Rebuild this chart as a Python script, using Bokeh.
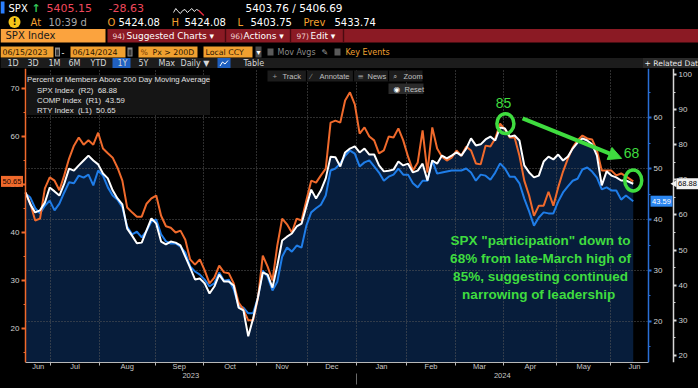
import math
import pandas as pd
from bokeh.plotting import figure
from bokeh.layouts import column
from bokeh.models import (Range1d, LinearAxis, FixedTicker, SingleIntervalTicker, Grid,
                          Legend, LegendItem, Arrow, NormalHead, CustomJSTickFormatter)
from bokeh.core.properties import value
from bokeh.embed import file_html
from bokeh.resources import INLINE

# ---------------- data ----------------
START, END = "2023-06-15", "2024-06-14"
HOLIDAYS = ["2023-06-19", "2023-07-04", "2023-09-04", "2023-11-23", "2023-12-25",
            "2024-01-01", "2024-01-15", "2024-02-19", "2024-03-29", "2024-05-27"]

# % of members above 200D moving average, sampled every 2nd trading day (last = 06/14/2024)
spx = [66.4, 63.0, 60.7, 61.3, 63.5, 67.8, 66.7, 65.5, 68.9, 73.2,
       72.6, 74.1, 75.5, 76.9, 75.5, 74.4, 71.8, 70.4, 67.0, 64.7,
       63.0, 56.1, 54.1, 51.9, 52.1, 55.6, 59.0, 57.5, 52.4, 51.6,
       52.4, 52.1, 51.3, 48.1, 45.0, 41.6, 41.9, 40.5, 37.6, 39.6,
       43.0, 41.0, 41.0, 39.9, 33.6, 32.8, 25.4, 30.5, 36.5, 43.6,
       43.0, 39.3, 45.6, 52.7, 53.8, 54.7, 56.7, 57.5, 62.4, 67.2,
       64.7, 67.0, 70.4, 76.6, 76.4, 73.8, 77.8, 78.9, 79.5, 77.8,
       78.9, 77.2, 77.2, 74.1, 72.4, 72.6, 72.9, 75.2, 74.1, 74.6,
       72.1, 72.6, 74.6, 69.8, 75.5, 74.6, 76.9, 76.1, 76.9, 77.8,
       76.9, 78.9, 81.8, 79.8, 80.1, 81.5, 82.3, 81.2, 84.9, 84.6,
       82.3, 82.6, 81.2, 74.1, 72.1, 70.7, 71.2, 75.2, 76.6, 75.8,
       77.2, 75.5, 76.6, 78.9, 80.6, 81.8, 81.2, 80.1, 76.9, 68.4,
       72.4, 71.2, 70.7, 69.8, 69.8, 68.88]
comp = [45.1, 44.3, 42.2, 41.2, 42.7, 43.7, 41.8, 43.1, 45.3, 47.3,
        47.1, 48.6, 48.2, 48.8, 46.7, 49.6, 48.6, 46.3, 44.7, 43.9,
        42.4, 38.6, 37.1, 37.6, 36.5, 37.8, 39.6, 40.0, 37.1, 35.7,
        35.3, 35.3, 34.7, 33.5, 30.8, 29.8, 29.2, 28.2, 26.9, 27.5,
        29.6, 28.0, 28.2, 26.3, 23.1, 22.7, 21.6, 21.6, 24.7, 30.0,
        28.8, 26.1, 27.8, 32.7, 34.5, 33.7, 34.9, 34.5, 38.8, 41.4,
        42.2, 42.9, 44.7, 49.6, 50.0, 51.0, 52.5, 53.5, 52.9, 50.4,
        51.2, 51.6, 50.4, 49.2, 47.6, 48.4, 48.8, 50.0, 48.8, 48.8,
        47.1, 46.3, 47.6, 47.6, 51.6, 49.0, 49.2, 49.4, 49.6, 49.6,
        49.6, 50.0, 49.2, 47.6, 48.8, 48.6, 47.8, 49.2, 51.0, 50.0,
        48.4, 48.4, 47.1, 44.1, 41.6, 38.8, 40.4, 41.4, 41.2, 41.2,
        43.5, 45.3, 46.5, 47.6, 48.0, 49.8, 50.2, 49.4, 48.2, 45.9,
        46.3, 45.7, 45.7, 43.9, 44.7, 43.59]
rty = [48.3, 46.0, 42.5, 42.9, 49.2, 51.5, 50.8, 48.8, 51.9, 55.4,
       58.1, 59.8, 58.3, 59.2, 58.3, 60.8, 57.5, 56.5, 55.6, 53.5,
       50.8, 45.2, 44.2, 43.3, 43.3, 46.0, 47.1, 47.7, 43.5, 41.3,
       41.0, 40.0, 40.4, 38.5, 34.4, 33.3, 34.4, 32.1, 29.4, 30.6,
       33.1, 31.7, 31.5, 29.4, 25.4, 24.0, 21.7, 21.7, 26.3, 35.2,
       32.9, 30.0, 37.3, 42.9, 41.7, 40.0, 42.9, 42.5, 46.7, 50.8,
       50.4, 51.9, 53.3, 62.9, 63.3, 62.9, 67.5, 69.2, 66.7, 60.6,
       61.9, 60.0, 59.2, 56.5, 57.1, 60.0, 59.8, 61.7, 59.2, 55.8,
       52.9, 54.6, 61.3, 52.5, 61.9, 57.5, 55.8, 55.0, 55.6, 57.1,
       56.0, 57.9, 57.1, 54.4, 54.2, 58.1, 57.9, 59.6, 62.7, 61.5,
       59.8, 59.8, 56.0, 50.8, 47.7, 43.5, 45.6, 45.6, 48.5, 45.6,
       49.4, 52.7, 55.4, 57.7, 59.2, 60.2, 59.6, 59.4, 57.1, 52.9,
       52.9, 52.9, 51.9, 52.3, 51.7, 50.65]

month_labels = ["Jun", "Jul", "Aug", "Sep", "Oct", "Nov", "Dec",
                "Jan", "Feb", "Mar", "Apr", "May", "Jun"]
year_labels = ["2023", "2024"]
legend_labels = ["SPX Index\u00a0\u00a0(R2)\u00a0\u00a068.88",
                 "COMP Index\u00a0\u00a0(R1)\u00a0\u00a043.59",
                 "RTY Index\u00a0\u00a0(L1)\u00a0\u00a050.65"]

# ---------------- derived x positions (trading-day index) ----------------
days = [d for d in pd.bdate_range(START, END) if d.strftime("%Y-%m-%d") not in HOLIDAYS]
n = len(days)
xs = list(range(0, n - 2, 2)) + [n - 1]
assert len(xs) == len(spx) == len(comp) == len(rty), (len(xs), len(spx), len(comp), len(rty))

bounds = [i - 0.5 for i in range(1, n) if days[i].month != days[i - 1].month]
year_b = [i - 0.5 for i in range(1, n) if days[i].year != days[i - 1].year][0]
x_end = n - 1 + 6.3
edges = [0] + bounds
month_centers = [(a + b) / 2 for a, b in zip(edges[:-1], edges[1:])] + [bounds[-1] + 10]
year_centers = [year_b / 2, (year_b + x_end) / 2]

R1 = (11.96, 69.61)
L1 = (12.92, 74.17)
R2 = (17.95, 101.71)

ORANGE = "#f06a2c"
BLUE = "#1f7de8"
WHITE = "#ffffff"
GREEN = "#3fdc3f"
FONT = value("Liberation Sans")

# ---------------- header (terminal chrome) ----------------
hdr = figure(width=698, height=68, x_range=Range1d(0, 698), y_range=Range1d(68, 0),
             x_axis_type=None, y_axis_type=None, toolbar_location=None, output_backend="svg",
             background_fill_color="black", border_fill_color="black", outline_line_color=None,
             min_border=0)
hdr.frame_align = False


def htext(x, y, s, color, size=10, bold=False, align="left", font="DejaVu Sans"):
    hdr.text(x=[x], y=[y], text=[s], text_color=color, text_font=value(font),
             text_font_size=f"{size}px", text_font_style="bold" if bold else "normal",
             text_align=align, text_baseline="middle")


def hbox(l, r, t, b, color):
    hdr.quad(left=[l], right=[r], top=[t], bottom=[b], fill_color=color, line_color=None)


# row 1
hbox(0, 4, 1, 13, "#2a7fff")
htext(8, 7.5, "SPX", "#ffffff", 10)
htext(31, 7.5, "\u2191", "#34c759", 11, bold=True)
htext(46, 7.5, "5405.15", "#f0485c", 11)
htext(108, 7.5, "-28.63", "#f0485c", 11)
spark = [9, 5, 8, 10, 7, 6, 9, 7, 5, 8, 6, 7]
sx = [173 + i * 2.3 for i in range(len(spark))]
sy = [3 + v for v in spark]
hdr.line(sx, sy, line_color="#e8e8e8", line_width=1)
hdr.line([sx[-1], sx[-1] + 3, sx[-1] + 5], [sy[-1], sy[-1] + 3, sy[-1] + 5], line_color="#e0283c", line_width=1.5)
htext(245, 7.5, "5403.76 / 5406.69", "#ffffff", 10.5)

# row 2
hdr.scatter([14], [21.5], marker="circle", size=12, fill_color="#f5c518", line_color=None)
htext(14, 21.5, "!", "#000000", 9, bold=True, align="center")
htext(30, 21.5, "At", "#f5a030", 10)
htext(48, 21.5, "10:39 d", "#a8a8a8", 10)
for lx, lab, vx, val in [(107, "O", 118, "5424.08"), (171, "H", 184, "5424.08"),
                         (237, "L", 250, "5403.75"), (303, "Prev", 334, "5433.74")]:
    htext(lx, 21.5, lab, "#f5a030", 10)
    htext(vx, 21.5, val, "#ffffff", 10)

# row 3
hbox(0, 105, 28.5, 42, "#fba33e")
htext(5, 35.3, "SPX Index", "#1a1a1a", 10)
hbox(107, 698, 28.5, 42, "#8b1a24")
for sxp in [225, 290, 343]:
    hbox(sxp - 0.7, sxp + 0.7, 28.5, 42, "#4a0a10")
htext(112, 35.5, "94)", "#f0d0d0", 7.5)
htext(126, 35.3, "Suggested Charts \u25be", "#ffffff", 9)
htext(230, 35.5, "96)", "#f0d0d0", 7.5)
htext(243, 35.3, "Actions \u25be", "#ffffff", 9)
htext(296, 35.5, "97)", "#f0d0d0", 7.5)
htext(310, 35.3, "Edit \u25be", "#ffffff", 9)

# row 4
for l, r, s in [(0, 53, "06/15/2023"), (70, 125, "06/14/2024"), (203, 252, "Local CCY")]:
    hbox(l, r, 46, 57, "#f0a030")
    htext(l + 2, 51.7, s, "#2a1600", 7.8)
hbox(138, 197, 46, 57, "#f0a030")
htext(140, 51.7, "%", "#7a3a00", 7.8)
htext(152, 51.7, "Px > 200D", "#2a1600", 7.8)
for l in [54.5, 127]:
    hbox(l, l + 5, 47, 56, "#8a8a8a")
    hbox(l + 1, l + 4, 49, 55, "#3a3a3a")
htext(61, 51.5, "-", "#ffffff", 8)
hbox(255, 261, 46, 57, "#4a4a4a")
htext(258, 51.7, "\u25be", "#ffffff", 8, align="center")
hbox(267, 273, 48, 55, "#5a5a5a")
htext(277, 51.7, "Mov Avgs", "#8a8a8a", 8)
htext(321, 51.7, "\u270e", "#9a9a9a", 8)
hbox(334, 340, 48, 55, "#5a5a5a")
htext(345, 51.7, "Key Events", "#f0a030", 8)

# row 5
hbox(0, 642, 57.5, 68, "#1c1c1c")
hbox(112, 130, 57.5, 68, "#2060c0")
hbox(217, 230, 57.5, 68, "#1e5fbf")
hdr.line([219.5, 222, 224.5, 227.5], [65.5, 61.5, 63.5, 60.0], line_color="#ffffff", line_width=1)
for bx, s in [(7, "1D"), (27, "3D"), (48, "1M"), (68, "6M"), (90, "YTD"), (117, "1Y"),
              (138, "5Y"), (158, "Max"), (180, "Daily \u25bc"), (243, "Table")]:
    htext(bx, 63, s, "#d6d6d6", 8)
hbox(642, 698, 57.5, 68, "#2a2a2a")
htext(644, 63, "+ Related Dat", "#e8e8e8", 7.6)

# ---------------- main chart ----------------
PPI = 623 / x_end          # pixels per trading day inside the plotting area (px 25..648)


def fx(px):
    return (px - 25) / PPI


p = figure(width=698, height=320, x_range=Range1d(fx(0), fx(698)), y_range=Range1d(*R1),
           x_axis_type=None, y_axis_type=None, toolbar_location=None, output_backend="svg",
           background_fill_color="black", border_fill_color="black", outline_line_color=None,
           min_border_left=0, min_border_right=0, min_border_top=0, min_border_bottom=26)
p.frame_align = False
p.extra_y_ranges = {"l1": Range1d(*L1), "r2": Range1d(*R2)}

# y axes, pinned at the edges of the data area
ax_l = LinearAxis(y_range_name="l1", ticker=SingleIntervalTicker(interval=10, num_minor_ticks=2),
                  fixed_location=0)
ax_r1 = LinearAxis(ticker=SingleIntervalTicker(interval=10, num_minor_ticks=2), fixed_location=x_end)
ax_r2 = LinearAxis(y_range_name="r2", ticker=SingleIntervalTicker(interval=10, num_minor_ticks=2),
                   fixed_location=fx(673))
for ax, col in [(ax_l, ORANGE), (ax_r1, "#2a6fd6"), (ax_r2, "#d8d8d8")]:
    ax.axis_line_color = col
    ax.axis_line_width = 1.5
    ax.major_tick_line_color = col
    ax.minor_tick_line_color = col
    ax.major_tick_in = 0
    ax.minor_tick_in = 0
    ax.major_tick_out = 3
    ax.minor_tick_out = 2
    ax.major_tick_line_width = 2
    ax.major_label_text_color = "#d0d0d0"
    ax.major_label_text_font = "Liberation Sans"
    ax.major_label_text_font_size = "8px"
    ax.major_label_standoff = 2
ax_l.major_tick_out = 4
p.add_layout(ax_l, "left")
p.add_layout(ax_r1, "right")
p.add_layout(ax_r2, "right")

ax_m = LinearAxis(ticker=FixedTicker(ticks=month_centers, minor_ticks=bounds), bounds=(0, x_end),
                  formatter=CustomJSTickFormatter(args=dict(labels=month_labels),
                                                  code="return labels[ticks.indexOf(tick)]"))
ax_m.axis_line_color = "#b8b8b8"
ax_m.major_tick_out = 0
ax_m.major_tick_in = 0
ax_m.minor_tick_out = 3
ax_m.minor_tick_in = 0
ax_m.minor_tick_line_color = "#b8b8b8"
ax_m.major_label_standoff = -4
ax_m.major_label_text_color = "#c8c8c8"
ax_m.major_label_text_font = "Liberation Sans"
ax_m.major_label_text_font_size = "7.5px"
p.add_layout(ax_m, "below")

ax_y = LinearAxis(ticker=FixedTicker(ticks=year_centers, minor_ticks=[year_b]), bounds=(0, x_end),
                  formatter=CustomJSTickFormatter(args=dict(labels=year_labels),
                                                  code="return labels[ticks.indexOf(tick)]"))
ax_y.axis_line_color = None
ax_y.major_tick_out = 0
ax_y.major_tick_in = 0
ax_y.minor_tick_out = 11
ax_y.minor_tick_in = 0
ax_y.minor_tick_line_color = "#6a6a6a"
ax_y.major_label_standoff = -12
ax_y.major_label_text_color = "#c8c8c8"
ax_y.major_label_text_font = "Liberation Sans"
ax_y.major_label_text_font_size = "7.5px"
p.add_layout(ax_y, "below")

# grids: vertical at month starts, horizontal at the R1 ticks (limited to the data area)
p.add_layout(Grid(dimension=0, ticker=FixedTicker(ticks=bounds), grid_line_color="#5c5c5c",
                  grid_line_dash="1 2"), "center")
r1_ticks = [t for t in range(0, 101, 10) if R1[0] < t < R1[1]]
p.segment(x0=[0] * len(r1_ticks), x1=[x_end] * len(r1_ticks), y0=r1_ticks, y1=r1_ticks,
          line_color="#5c5c5c", line_dash="1 2", line_width=1, level="underlay")

# area + lines
p.varea(x=xs, y1=[R2[0] - 5] * len(xs), y2=spx, y_range_name="r2", fill_color="#071d3b", level="image")
p.line(xs, comp, line_color=BLUE, line_width=2)
p.line(xs, rty, line_color=ORANGE, line_width=2, y_range_name="l1")
p.line(xs, spx, line_color=WHITE, line_width=2, y_range_name="r2")


# chrome inside chart (toolbar buttons) positioned in reference pixels
def fy(py):
    return R1[1] - (py - 68) / 294 * (R1[1] - R1[0])


def cbox(l, r, t, b, color):
    p.quad(left=[fx(l)], right=[fx(r)], top=[fy(t)], bottom=[fy(b)], fill_color=color, line_color=None)


def ctext(x, y, s, color, size=7.5, font="Liberation Sans"):
    p.text(x=[fx(x)], y=[fy(y)], text=[s], text_color=color, text_font=value(font),
           text_font_size=f"{size}px", text_align="left", text_baseline="middle")


cbox(267, 422, 70, 81, "#1c1c1c")
for sxp in [306, 353, 388]:
    cbox(sxp - 0.6, sxp + 0.6, 70, 81, "#000000")
ctext(272, 75.7, "+", "#9a9a9a", 8)
ctext(282, 75.7, "Track", "#c0c0c0")
ctext(310, 75.7, "\u2215", "#9a9a9a", 7.5)
ctext(319, 75.7, "Annotate", "#c0c0c0")
ctext(357, 75.7, "\u2261", "#9a9a9a", 7.5, font="DejaVu Sans")
ctext(367, 75.7, "News", "#c0c0c0")
ctext(392, 75.7, "\u2315", "#9a9a9a", 7.5, font="DejaVu Sans")
ctext(403, 75.7, "Zoom", "#c0c0c0")
cbox(388, 423, 83, 93.5, "#2b2b2b")
ctext(393, 88.5, "\u25c9", "#ffffff", 7.5, font="DejaVu Sans")
ctext(404, 88.5, "Reset", "#c0c0c0")

# legend
dummy_cols = [WHITE, BLUE, ORANGE]
items = []
for lab, c in zip(legend_labels, dummy_cols):
    r = p.rect(x=[], y=[], width=1, height=1, fill_color=c, line_color=None)
    items.append(LegendItem(label=lab, renderers=[r]))
leg = Legend(items=items, location=(27, 247), title="Percent of Members Above 200 Day Moving Average",
             title_text_font="Liberation Sans", title_text_font_size="7.8px", title_text_color="#e0e0e0",
             title_text_font_style="normal", title_standoff=2,
             label_text_font="Liberation Sans", label_text_font_size="7.8px", label_text_color="#e0e0e0",
             glyph_width=8, glyph_height=8, label_height=8, label_standoff=2, spacing=1, padding=4,
             margin=0, background_fill_color="#151515", background_fill_alpha=1.0,
             border_line_color=None)
p.add_layout(leg, "center")

# last-value tags on the three axes
tags = [  # (centre px, value, range, bg, fg)
    (11.5, rty[-1], "l1", ORANGE, "#200800"),
    (661, comp[-1], "default", "#2b86f0", "#ffffff"),
    (687, spx[-1], "r2", "#f2f2f2", "#000000"),
]
for cx, v, rng, bg, fg in tags:
    p.rect(x=[fx(cx)], y=[v], width=22, height=11, width_units="screen", height_units="screen",
           fill_color=bg, line_color=None, y_range_name=rng, level="overlay")
    p.text(x=[fx(cx)], y=[v], text=[f"{v:.2f}"], y_range_name=rng, level="overlay",
           text_color=fg, text_font=FONT, text_font_size="7.5px",
           text_align="center", text_baseline="middle")
p.scatter(x=[fx(674)], y=[spx[-1]], marker="triangle", angle=math.pi / 2, size=7,
          fill_color="#f2f2f2", line_color=None, y_range_name="r2", level="overlay")

# annotations (trading-day index, SPX R2 units)
peak_circle = (198.2, 86.0)
last_circle = (251.0, 69.8)
arrow_from = (205.3, 87.5)
arrow_to = (246.2, 76.1)
p.ellipse(x=[peak_circle[0], last_circle[0]], y=[peak_circle[1], last_circle[1]],
          width=[17, 17], height=[20, 21], width_units="screen", height_units="screen",
          fill_color=None, line_color=GREEN, line_width=3.5, y_range_name="r2")
p.add_layout(Arrow(x_start=arrow_from[0], y_start=arrow_from[1], x_end=arrow_to[0], y_end=arrow_to[1],
                   y_range_name="r2", line_color=GREEN, line_width=4,
                   end=NormalHead(size=13, fill_color=GREEN, line_color=GREEN)))
p.text(x=[197.4, 250.3], y=[92.0, 77.6], text=["85", "68"], y_range_name="r2",
       text_color=GREEN, text_font=FONT, text_font_size="14px",
       text_align="center", text_baseline="middle")
p.text(x=[212.7], y=[44.9], y_range_name="r2",
       text=["SPX \"participation\" down to\n68% from late-March high of\n85%, suggesting continued\nnarrowing of  leadership"],
       text_color=GREEN, text_font=FONT, text_font_size="13.5px", text_font_style="bold",
       text_align="center", text_baseline="middle", text_line_height=1.2)

layout = column(hdr, p, spacing=0)
html = file_html(layout, INLINE)
html = html.replace("</head>", "<style>html,body{margin:0;padding:0;background:#000000;}</style></head>", 1)
open("out.html", "w").write(html)
